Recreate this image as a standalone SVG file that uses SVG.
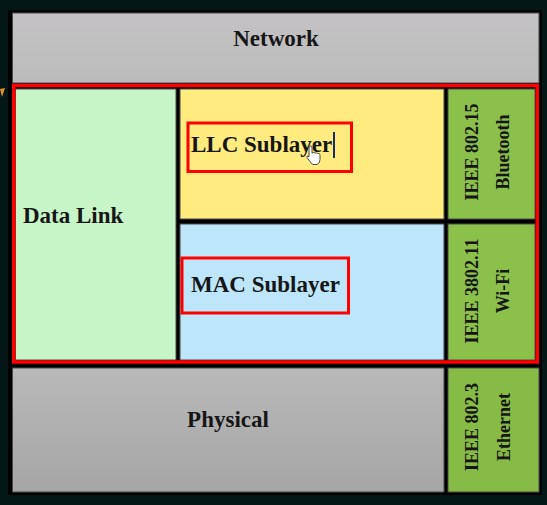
<svg xmlns="http://www.w3.org/2000/svg" width="547" height="505" viewBox="0 0 547 505">
  <defs>
    <linearGradient id="gNet" x1="0" y1="0" x2="0" y2="1">
      <stop offset="0" stop-color="#c4c2c4"/>
      <stop offset="1" stop-color="#bcbcbc"/>
    </linearGradient>
    <linearGradient id="gPhy" x1="0" y1="0" x2="0" y2="1">
      <stop offset="0" stop-color="#b9b9b9"/>
      <stop offset="1" stop-color="#a6a6a6"/>
    </linearGradient>
  </defs>
  <style>
    .cell { stroke: #4a4a4a; stroke-width: 1; }
    .lbl { font-family: "Liberation Serif", "Times New Roman", serif; font-weight: bold; font-size: 23px; fill: #161616; }
    .vlbl { font-family: "Liberation Serif", "Times New Roman", serif; font-weight: bold; font-size: 18px; fill: #161616; text-anchor: middle; }
    .red { fill: none; stroke: #ff0000; }
  </style>
  <rect x="0" y="0" width="547" height="505" fill="#031816"/>
  <rect x="8" y="10" width="534" height="485" fill="#000000"/>
  <polygon points="0,89 5,88 2,97" fill="#e0922a"/>

  <g id="network">
    <rect class="cell" x="12.5" y="13" width="526.5" height="70" fill="url(#gNet)"/>
    <text class="lbl" x="276" y="46" text-anchor="middle">Network</text>
  </g>

  <g id="datalink">
    <rect class="cell" x="15.5" y="89" width="160.5" height="271" fill="#c7f5c7"/>
    <text class="lbl" x="23" y="223">Data Link</text>
  </g>

  <g id="llc">
    <rect class="cell" x="180" y="89" width="264" height="130" fill="#ffeb7e"/>
    <rect class="red" x="188" y="123" width="163.5" height="48.5" stroke-width="3"/>
    <text class="lbl" x="191" y="152">LLC Sublayer</text>
    <rect x="333" y="132" width="2" height="26" fill="#1b2a6e"/>
    <path d="M309,148 q0,-2 1.5,-2 q1.5,0 1.5,2 v5 q1.5,-1 3,0 q1.5,-0.5 2.5,0.5 q1.5,-0.5 2.5,1 v5 q0,4 -3,5 h-4 q-2,-1 -3,-3 l-3,-4 q-0.5,-1.5 1,-1.5 l1,1 z" fill="#ffffff" stroke="#222222" stroke-width="0.8"/>
  </g>

  <g id="mac">
    <rect class="cell" x="180" y="224" width="264" height="136" fill="#bee6fb"/>
    <rect class="red" x="182" y="258" width="166.5" height="55" stroke-width="3"/>
    <text class="lbl" x="191" y="292">MAC Sublayer</text>
  </g>

  <g id="bluetooth">
    <rect class="cell" x="448" y="89" width="87" height="130" fill="#8bc04b"/>
    <text class="vlbl" transform="translate(478,152) rotate(-90)">IEEE 802.15</text>
    <text class="vlbl" transform="translate(509,152) rotate(-90)">Bluetooth</text>
  </g>

  <g id="wifi">
    <rect class="cell" x="448" y="224" width="87" height="136" fill="#8bc04b"/>
    <text class="vlbl" transform="translate(478,291) rotate(-90)">IEEE 3802.11</text>
    <text class="vlbl" transform="translate(509,291) rotate(-90)">Wi-Fi</text>
  </g>

  <g id="physical">
    <rect class="cell" x="12.5" y="368" width="431.5" height="124" fill="url(#gPhy)"/>
    <text class="lbl" x="228" y="427" text-anchor="middle">Physical</text>
  </g>

  <g id="ethernet">
    <rect class="cell" x="448" y="368" width="91" height="124" fill="#86bb46"/>
    <text class="vlbl" transform="translate(477.5,427) rotate(-90)">IEEE 802.3</text>
    <text class="vlbl" transform="translate(510,427) rotate(-90)">Ethernet</text>
  </g>

  <g id="connectors">
    <rect id="datalink-frame" class="red" x="13.75" y="85.5" width="523.5" height="276.5" stroke-width="3.5"/>
  </g>
</svg>
